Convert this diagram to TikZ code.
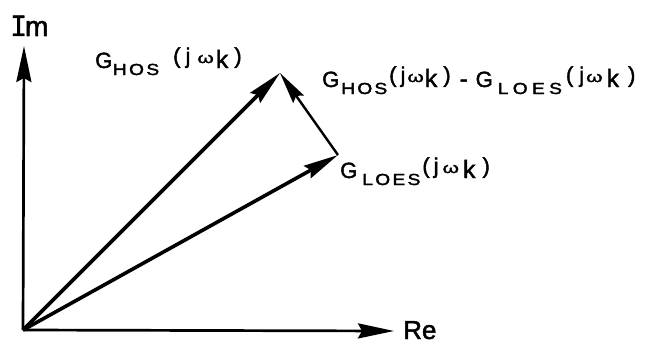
\documentclass[tikz,border=0pt]{standalone}
\usepackage{fontspec}
\setmainfont{Liberation Sans}[FakeBold=1.8]
\newfontfamily\monof{DejaVu Sans Mono}[FakeBold=1.2]
\usetikzlibrary{arrows.meta}
\newcommand\Gl{{\fontsize{22}{22}\selectfont G}}
\newcommand\sbs[2]{\raisebox{-7pt}{\fontsize{16}{16}\selectfont\scalebox{1.2}[1]{\def\kk{\kern#1pt}#2}}}
\newcommand\lp{\raisebox{4.7pt}{\fontsize{22}{22}\selectfont(}}
\newcommand\rp{\raisebox{4.7pt}{\fontsize{22}{22}\selectfont)}}
\newcommand\jj{\raisebox{4.6pt}{\fontsize{22}{22}\selectfont j}}
\newcommand\ww{\raisebox{5pt}{\scalebox{1.4}[1]{\fontsize{15}{15}\selectfont ω}}}
\newcommand\kay{{\fontsize{25}{25}\selectfont k}}
\begin{document}
\begin{tikzpicture}[x=1pt,y=-1pt,
  vec/.style={line width=3.6pt,-{Stealth[length=35pt,width=14pt,inset=4pt]}},
  axis/.style={line width=2.7pt,-{Stealth[length=36pt,width=15pt,inset=4pt]}},
  diff/.style={line width=2.4pt,-{Stealth[length=32pt,width=13pt,inset=4pt]}},
  lbl/.style={inner sep=0pt,anchor=base west}]
\useasboundingbox (0,0) rectangle (655,345);
\coordinate (O) at (23,330);
\coordinate (imtip) at (24,46);
\coordinate (retip) at (394,331);
\coordinate (H) at (280,73);
\coordinate (L) at (338,155);
\draw[axis] (O) -- (imtip);
\draw[axis] (O) -- (retip);
\draw[vec] (O) -- (H);
\draw[vec] (O) -- (L);
\draw[diff] (L) -- (H);
\node[lbl] (im) at (10,36) {\fontsize{28}{28}\selectfont{\monof I}\kern-2pt m};
\node[lbl] (re) at (403,339) {\fontsize{26}{26}\selectfont Re};
\node[lbl] (hos) at (95,68) {\Gl\kern0.5pt\sbs{2}{H\kk O\kk S}\kern14pt\lp\kern5pt\jj\kern7pt\ww\kern2pt\kay\kern6pt\rp};
\node[lbl] (dif) at (322,87) {\Gl\kern2pt\sbs{1.8}{H\kk O\kk S}\kern2pt\lp\kern4pt\jj\kern2pt\ww\kern1pt\kay\kern6pt\rp\kern9pt{\fontsize{24}{24}\selectfont -}\kern8pt\Gl\kern5pt\sbs{3.6}{L\kk O\kk E\kk S}\kern4pt\lp\kern6pt\jj\kern2pt\ww\kern4pt\kay\kern9pt\rp};
\node[lbl] (loes) at (340,178) {\Gl\kern5pt\sbs{1.9}{L\kk O\kk E\kk S}\kern2pt\lp\kern4pt\jj\kern4pt\ww\kern4pt\kay\kern7pt\rp};
\end{tikzpicture}
\end{document}
